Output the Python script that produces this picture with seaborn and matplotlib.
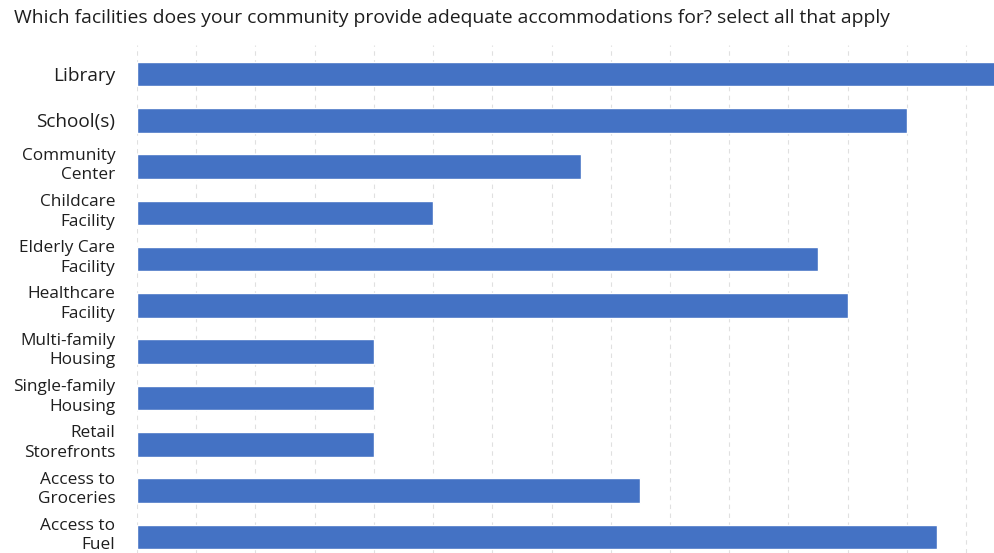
import pandas as pd
import seaborn as sns
import matplotlib.pyplot as plt
import matplotlib.transforms as mtransforms

# Facilities and their counts
facilities = [
    "Library", "School(s)", "Community\nCenter", "Childcare\nFacility",
    "Elderly Care\nFacility", "Healthcare\nFacility", "Multi-family\nHousing",
    "Single-family\nHousing", "Retail\nStorefronts", "Access to\nGroceries",
    "Access to\nFuel",
]
counts = [15, 13, 7.5, 5, 11.5, 12, 4, 4, 4, 8.5, 13.5]

df = pd.DataFrame({"Facility": facilities, "Count": counts})

sns.set_style("white")
plt.rcParams['font.family'] = ['Open Sans', 'DejaVu Sans']

fig = plt.figure(figsize=(9.94, 5.53), dpi=100)
ax = fig.add_axes([137 / 994, 0, 857 / 994, 508 / 553])

sns.barplot(x="Count", y="Facility", data=df, orient="h",
            color="#4472C4", saturation=1, width=0.53, ax=ax)

ax.set_xlim(0, 14.47)
ax.set_ylim(10.35, -0.63)
ax.set_xticks(range(0, 15))
ax.xaxis.grid(True, linestyle=(0, (4, 4)), color="#e0e0e0", linewidth=0.8)
ax.set_axisbelow(True)
ax.tick_params(axis="x", length=0, labelbottom=False)
ax.tick_params(axis="y", length=0, pad=15.5)
for s in ax.spines.values():
    s.set_visible(False)

ax.set_xlabel("")
ax.set_ylabel("")
# nudge the two-line labels up a little, like the original
shift = mtransforms.ScaledTranslation(0, 5 / 100, fig.dpi_scale_trans)
for i, lbl in enumerate(ax.get_yticklabels()):
    lbl.set_color("#1e1e1e")
    lbl.set_linespacing(1.3)
    if i < 2:
        lbl.set_fontsize(13.7)
    else:
        lbl.set_fontsize(12.4)
        lbl.set_transform(lbl.get_transform() + shift)

fig.text(14 / 994, 1 - 18 / 553, "Which facilities does your community provide adequate accommodations for? select all that apply",
         fontsize=13.9, color="#1e1e1e", va="center", ha="left")

plt.savefig("out.png", dpi=100)
